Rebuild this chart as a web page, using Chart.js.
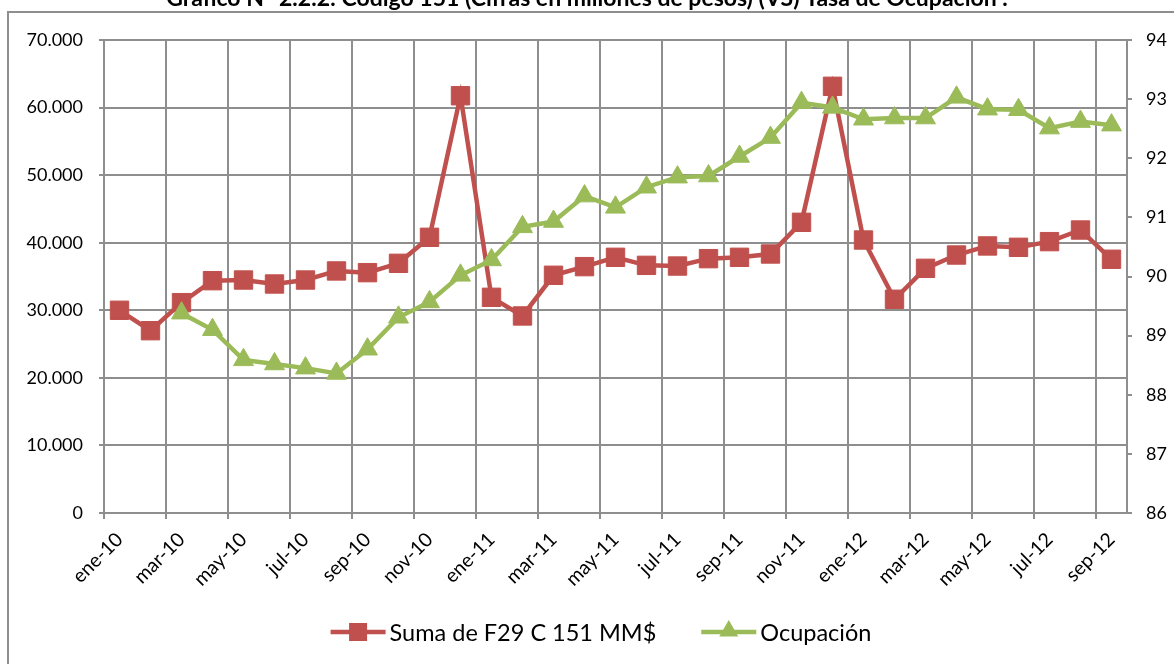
<!DOCTYPE html>
<html>
<head>
<meta charset="utf-8">
<script src="https://cdn.jsdelivr.net/npm/chart.js@4.4.1/dist/chart.umd.min.js"></script>
<style>
  html, body { margin: 0; padding: 0; background: #fff; overflow: hidden; }
  #c { display: block; }
</style>
</head>
<body>
<canvas id="c" width="1174" height="664"></canvas>
<script>
// data
var months = [
    "ene-10", "feb-10", "mar-10", "abr-10", "may-10", "jun-10", "jul-10", "ago-10", "sep-10", "oct-10", "nov-10", "dic-10",
    "ene-11", "feb-11", "mar-11", "abr-11", "may-11", "jun-11", "jul-11", "ago-11", "sep-11", "oct-11", "nov-11", "dic-11",
    "ene-12", "feb-12", "mar-12", "abr-12", "may-12", "jun-12", "jul-12", "ago-12", "sep-12"
];
var sumaF29 = [
    30000, 26980, 31130, 34380, 34480, 33890, 34480, 35820, 35570, 36950, 40800, 61750,
    31920, 29160, 35180, 36460, 37840, 36650, 36550, 37640, 37840, 38330, 43020, 63150,
    40400, 31630, 36210, 38180, 39520, 39320, 40160, 41880, 37550
];
var ocupacion = [
    null, null, 89.38, 89.10, 88.59, 88.52, 88.45, 88.36, 88.77, 89.31, 89.57, 90.02,
    90.28, 90.84, 90.93, 91.36, 91.17, 91.51, 91.68, 91.70, 92.03, 92.35, 92.94, 92.86,
    92.66, 92.68, 92.68, 93.03, 92.83, 92.82, 92.51, 92.62, 92.56
];
var leftTicks = [0, 10000, 20000, 30000, 40000, 50000, 60000, 70000];
var rightTicks = [86, 87, 88, 89, 90, 91, 92, 93, 94];

var titulo = "Gráfico N° 2.2.2: Código 151 (Cifras en millones de pesos) (VS) Tasa de Ocupación .";
var serieRoja = "Suma de F29 C 151 MM$";
var serieVerde = "Ocupación";

var ROJO = "#C0504D";
var VERDE = "#9BBB59";
var GRIS = "#8e8e8e";
var FONT = "Lato";

function miles(v) {
    return String(v).replace(/\B(?=(\d{3})+(?!\d))/g, ".");
}

function tri(ctx, x, y, r) {
    ctx.beginPath();
    ctx.moveTo(x, y - r);
    ctx.lineTo(x + r * 0.866, y + r / 2);
    ctx.lineTo(x - r * 0.866, y + r / 2);
    ctx.closePath();
    ctx.fill();
}

var marco = {
    id: "marco",
    beforeDraw: function (ch) {
        var ctx = ch.ctx;
        ctx.save();
        ctx.fillStyle = "#fff";
        ctx.fillRect(0, 0, ch.width, ch.height);
        ctx.strokeStyle = GRIS;
        ctx.lineWidth = 2;
        ctx.strokeRect(8, 12, 1300, 1000);
        ctx.fillStyle = "#000";
        ctx.font = "bold 23px " + FONT;
        ctx.textAlign = "center";
        ctx.textBaseline = "alphabetic";
        ctx.fillText(titulo, 587, 6);
        ctx.restore();
    },
    afterDraw: function (ch) {
        var ctx = ch.ctx;
        ctx.save();
        ctx.font = "23.5px " + FONT;
        var items = [
            { t: serieRoja, c: ROJO, s: "rect" },
            { t: serieVerde, c: VERDE, s: "tri" }
        ];
        var lineLen = 55, gap = 4, sep = 45;
        var total = sep;
        items.forEach(function (it) {
            it.w = ctx.measureText(it.t).width;
            total += lineLen + gap + it.w;
        });
        var x = 601 - total / 2, y = 632;
        items.forEach(function (it) {
            ctx.strokeStyle = it.c;
            ctx.fillStyle = it.c;
            ctx.lineWidth = 4.5;
            ctx.beginPath();
            ctx.moveTo(x, y);
            ctx.lineTo(x + lineLen, y);
            ctx.stroke();
            var mx = x + lineLen / 2;
            if (it.s === "rect") ctx.fillRect(mx - 9, y - 9, 18, 18);
            else tri(ctx, mx, y - 1, 11);
            ctx.fillStyle = "#000";
            ctx.textBaseline = "middle";
            ctx.textAlign = "left";
            ctx.fillText(it.t, x + lineLen + gap, y + 1);
            x += lineLen + gap + it.w + sep;
        });
        ctx.restore();
    }
};

function dibujar() {
    new Chart(document.getElementById("c"), {
        type: "line",
        data: {
            labels: months,
            datasets: [
                {
                    label: serieRoja,
                    data: sumaF29,
                    yAxisID: "y",
                    borderColor: ROJO,
                    backgroundColor: ROJO,
                    borderWidth: 4.5,
                    pointStyle: "rect",
                    pointRadius: 13,
                    pointBorderWidth: 1,
                    tension: 0,
                    order: 2
                },
                {
                    label: serieVerde,
                    data: ocupacion,
                    yAxisID: "y1",
                    borderColor: VERDE,
                    backgroundColor: VERDE,
                    borderWidth: 4.5,
                    pointStyle: "triangle",
                    pointRadius: 11.5,
                    pointBorderWidth: 1,
                    tension: 0,
                    order: 1
                }
            ]
        },
        options: {
            responsive: false,
            animation: false,
            devicePixelRatio: 1,
            layout: { padding: { left: 8, right: 0, top: 40, bottom: 0 } },
            plugins: {
                legend: { display: false },
                tooltip: { enabled: false }
            },
            scales: {
                x: {
                    offset: true,
                    grid: {
                        offset: true,
                        lineWidth: 2,
                        tickLength: 6,
                        color: function (c) { return c.index % 2 === 0 ? GRIS : "rgba(0,0,0,0)"; }
                    },
                    border: { color: GRIS, width: 2 },
                    ticks: {
                        autoSkip: false,
                        maxRotation: 45,
                        minRotation: 45,
                        padding: 9,
                        color: "#000",
                        font: { family: FONT, size: 19.5 },
                        callback: function (v, i) { return i % 2 === 0 ? months[i] : ""; }
                    },
                    afterFit: function (s) { s.height = 151; }
                },
                y: {
                    position: "left",
                    min: leftTicks[0],
                    max: leftTicks[leftTicks.length - 1],
                    afterBuildTicks: function (s) { s.ticks = leftTicks.map(function (v) { return { value: v }; }); },
                    grid: { color: GRIS, lineWidth: 2, tickLength: 5 },
                    border: { color: GRIS, width: 2 },
                    ticks: {
                        padding: 16,
                        color: "#000",
                        font: { family: FONT, size: 18 },
                        callback: function (v) { return miles(v); }
                    },
                    afterFit: function (s) { s.width = 96; }
                },
                y1: {
                    position: "right",
                    min: rightTicks[0],
                    max: rightTicks[rightTicks.length - 1],
                    afterBuildTicks: function (s) { s.ticks = rightTicks.map(function (v) { return { value: v }; }); },
                    grid: { drawOnChartArea: false, color: GRIS, lineWidth: 2, tickLength: 5 },
                    border: { color: GRIS, width: 2 },
                    ticks: {
                        padding: 14,
                        color: "#000",
                        font: { family: FONT, size: 18 }
                    },
                    afterFit: function (s) { s.width = 47; }
                }
            }
        },
        plugins: [marco]
    });
}

if (document.fonts && document.fonts.load) {
    Promise.all([
        document.fonts.load("18px Lato"),
        document.fonts.load("bold 18px Lato")
    ]).then(dibujar, dibujar);
} else {
    dibujar();
}
</script>
</body>
</html>
